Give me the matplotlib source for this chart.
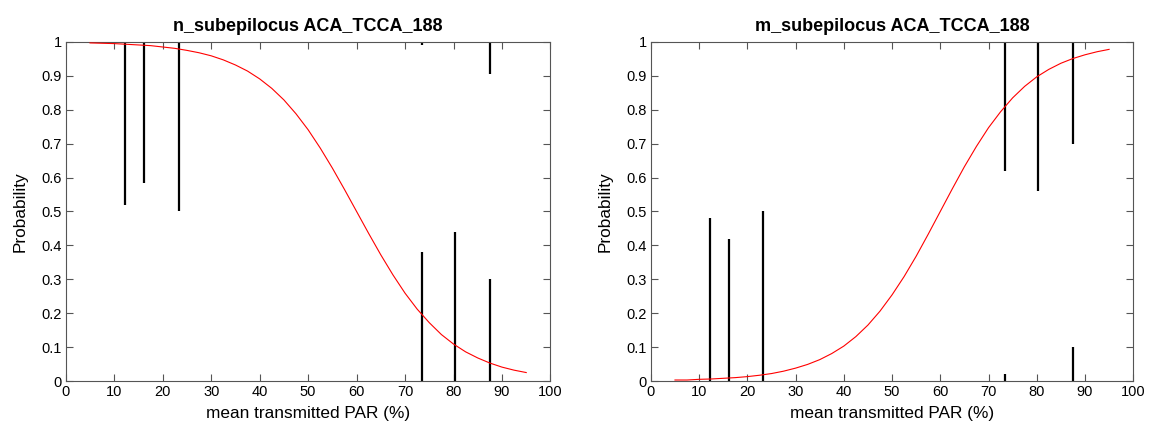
import matplotlib
matplotlib.use('Agg')
import matplotlib.pyplot as plt

plt.rcParams['font.family'] = ['Liberation Sans', 'DejaVu Sans']

# fitted probability curves
par_x = [5, 7.5, 10, 12.5, 15, 17.5, 20, 22.5, 25, 27.5, 30, 32.5, 35, 37.5,
         40, 42.5, 45, 47.5, 50, 52.5, 55, 57.5, 60, 62.5, 65, 67.5, 70, 72.5,
         75, 77.5, 80, 82.5, 85, 87.5, 90, 92.5, 95]
n_prob = [0.997, 0.996, 0.995, 0.993, 0.991, 0.989, 0.985, 0.981, 0.975, 0.968,
          0.959, 0.947, 0.932, 0.914, 0.891, 0.863, 0.829, 0.788, 0.741, 0.687,
          0.628, 0.565, 0.500, 0.435, 0.372, 0.313, 0.259, 0.212, 0.172, 0.137,
          0.109, 0.086, 0.068, 0.053, 0.041, 0.032, 0.025]
m_prob = [0.003, 0.003, 0.005, 0.006, 0.008, 0.010, 0.013, 0.017, 0.022, 0.029,
          0.038, 0.049, 0.063, 0.081, 0.103, 0.131, 0.165, 0.206, 0.254, 0.308,
          0.368, 0.433, 0.500, 0.567, 0.632, 0.692, 0.747, 0.794, 0.835, 0.869,
          0.897, 0.919, 0.937, 0.951, 0.962, 0.971, 0.978]

# vertical interval bars: x position, low, high
n_bar_x = [12.3, 16.1, 23.3, 73.4, 73.4, 80.3, 87.6, 87.6]
n_bar_lo = [0.52, 0.585, 0.50, 0.0, 0.99, 0.0, 0.0, 0.905]
n_bar_hi = [1.0, 1.0, 1.0, 0.38, 1.0, 0.44, 0.30, 1.0]

m_bar_x = [12.3, 16.1, 23.3, 73.4, 73.4, 80.3, 87.6, 87.6]
m_bar_lo = [0.0, 0.0, 0.0, 0.62, 0.0, 0.56, 0.70, 0.0]
m_bar_hi = [0.48, 0.42, 0.50, 1.0, 0.02, 1.0, 1.0, 0.10]

titles = ['n_subepilocus ACA_TCCA_188', 'm_subepilocus ACA_TCCA_188']
xticks = list(range(0, 101, 10))
yticks = [i / 10 for i in range(11)]
ytick_labels = ['0'] + ['0.%d' % i for i in range(1, 10)] + ['1']

fig = plt.figure(figsize=(11.54, 4.32), dpi=100)
ax1 = fig.add_axes([0.057, 0.118, 0.420, 0.785])
ax2 = fig.add_axes([0.564, 0.118, 0.418, 0.785])

panels = [(ax1, n_prob, n_bar_x, n_bar_lo, n_bar_hi),
          (ax2, m_prob, m_bar_x, m_bar_lo, m_bar_hi)]

for (ax, prob, bx, blo, bhi), title in zip(panels, titles):
    ax.vlines(bx, blo, bhi, colors='black', linewidth=1.6, zorder=2)
    ax.plot(par_x, prob, color='red', linewidth=0.8, zorder=3)
    ax.set_xlim(0, 100)
    ax.set_ylim(0, 1)
    ax.set_xticks(xticks)
    ax.set_yticks(yticks)
    ax.set_yticklabels(ytick_labels)
    ax.tick_params(direction='in', top=True, right=True, length=5,
                   color='#555555', labelsize=10.5, pad=3)
    for sp in ax.spines.values():
        sp.set_color('#555555')
        sp.set_linewidth(0.8)
    ax.set_xlabel('mean transmitted PAR (%)', fontsize=12.4, labelpad=5)
    ax.set_ylabel('Probability', fontsize=12.4, labelpad=10)
    ax.set_title(title, fontsize=13, fontweight='bold', pad=8)

fig.savefig('out.png', dpi=100)
